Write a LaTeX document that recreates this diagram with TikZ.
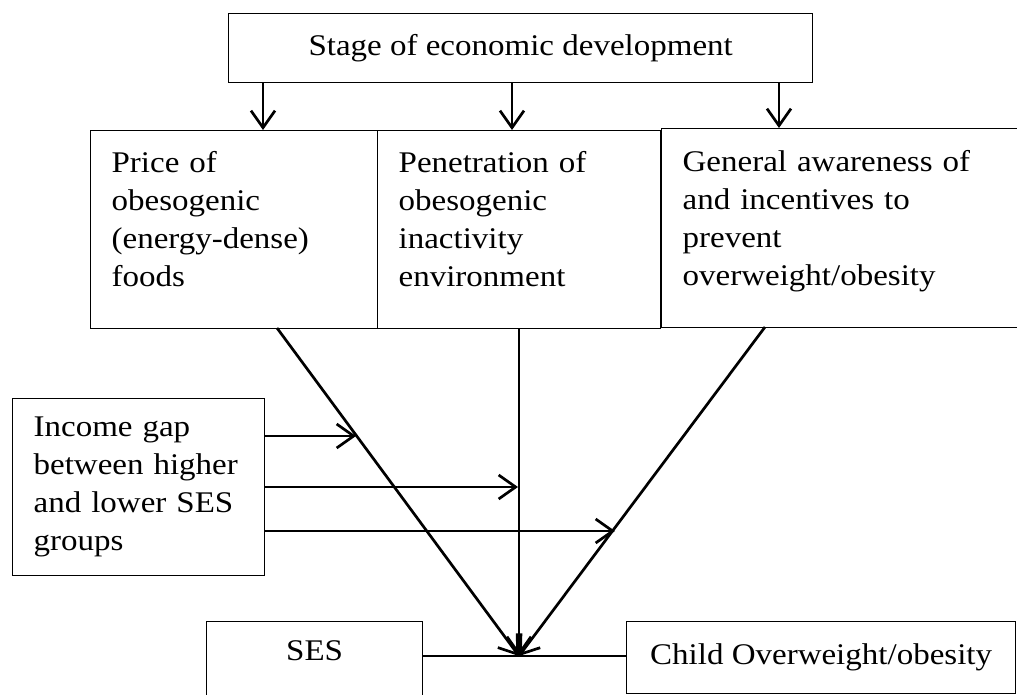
\documentclass[tikz,border=0pt]{standalone}
\usepackage{fontspec}
\setmainfont{Liberation Serif}[FakeStretch=1.1]
\usetikzlibrary{arrows.meta}

\begin{document}
\begin{tikzpicture}[x=1pt,y=-1pt,
    factor/.style ={draw, line width=1.3pt, inner xsep=21pt, inner ysep=0pt,
                    anchor=north west, align=left,
                    font=\fontsize{30}{38}\selectfont},
    effect/.style ={line width=2.7pt,
                    -{Straight Barb[length=17pt,width=24pt]}}]
   \useasboundingbox (0,0) rectangle (1017,694);
   \clip (0,0) rectangle (1017,694);

   \node[factor, align=center, minimum width=584pt, minimum height=69pt] (stage) at (228,13) {Stage of economic development};
   \node[factor, text width=245pt, minimum height=198pt] (price) at (90,130) {Price of\\ obesogenic\\ (energy-dense)\\ foods\\[-17pt]\null};
   \node[factor, text width=241pt, minimum height=198pt] (penetration) at (377,130) {Penetration of\\ obesogenic\\ inactivity\\ environment\\[-17pt]\null};
   \node[factor, text width=322pt, minimum height=199pt] (awareness) at (661,128) {General awareness of\\ and incentives to\\ prevent\\ overweight/obesity\\[-17pt]\null};
   \node[factor, text width=210pt, minimum height=177pt] (income) at (12,398) {Income gap\\ between higher\\ and lower SES\\ groups};
   \node[factor, align=center, minimum width=216pt, text height=39pt, text depth=41pt] (ses) at (206,621) {SES};
   \node[factor, align=center, minimum width=389pt, minimum height=72pt] (child) at (626,621) {Child Overweight/obesity};

   \coordinate (a1) at (263,130);
   \coordinate (a2) at (512,130);
   \coordinate (a3) at (779,128);
   \coordinate (p1) at (277,328);
   \coordinate (p2) at (519,328);
   \coordinate (p3) at (765,327);
   \coordinate (meet) at (519,656);
   \coordinate (g1) at (356,436);
   \coordinate (g2) at (518,487);
   \coordinate (g3) at (615,531);

   % stage of development
   \draw[effect] (stage.south -| a1) -- (a1);
   \draw[effect] (stage.south -| a2) -- (a2);
   \draw[effect] (stage.south -| a3) -- (a3);

   % towards SES gradient
   \draw[effect] (p1) -- (meet);
   \draw[effect] (p2) -- (meet);
   \draw[effect] (p3) -- (meet);

   % income gap
   \draw[effect] (income.east |- g1) -- (g1);
   \draw[effect] (income.east |- g2) -- (g2);
   \draw[effect] (income.east |- g3) -- (g3);

   \draw[line width=2.7pt] (ses.east |- meet) -- (child.west |- meet);
\end{tikzpicture}
\end{document}
